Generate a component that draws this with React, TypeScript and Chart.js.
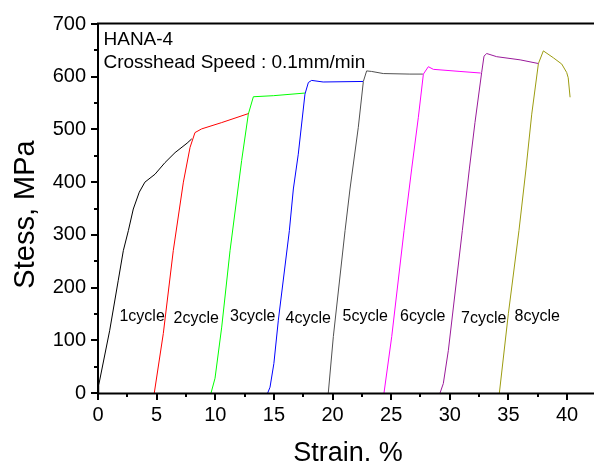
import React, { useEffect, useRef } from 'react';
import { Chart, registerables } from 'chart.js';

Chart.register(...registerables);

const FONT = '"Liberation Sans", Arial, Helvetica, sans-serif';

// ---- data (strain %, stress MPa) ----
const cycleNames = ['1cycle', '2cycle', '3cycle', '4cycle', '5cycle', '6cycle', '7cycle', '8cycle'];
const cycleColors = ['#000000', '#ff0000', '#00ff00', '#0000ff', '#505050', '#ff00ff', '#9a1a9a', '#9c9c10'];

const c1Strain = [0, 0.06, 1.0, 1.73, 2.16, 2.59, 3.01, 3.52, 4.0, 4.86, 5.71, 6.57, 7.6, 7.99];
const c1Stress = [0, 15, 119, 214, 270, 308, 349, 381, 400, 415, 437, 456, 474, 482];
const c2Strain = [4.8, 5.57, 6.42, 7.28, 7.85, 8.27, 8.84, 10.55, 12.82];
const c2Stress = [0, 113, 270, 400, 466, 494, 501, 513, 530];
const c3Strain = [9.64, 9.98, 10.55, 11.26, 12.25, 12.82, 13.25, 14.95, 17.65];
const c3Stress = [0, 28, 125, 270, 441, 529, 562, 564, 569];
const c4Strain = [14.47, 14.67, 15.0, 15.38, 16.32, 16.66, 17.08, 17.65, 17.94, 18.22, 19.2, 22.6];
const c4Stress = [0, 11, 56, 138, 308, 387, 453, 567, 589, 593, 590, 591];
const c5Strain = [19.64, 20.07, 21.07, 21.49, 22.2, 22.63, 22.91, 23.34, 24.33, 26.6, 27.7];
const c5Stress = [0, 107, 308, 387, 504, 591, 611, 610, 606, 605, 605];
const c6Strain = [24.39, 25.05, 26.1, 26.75, 27.32, 27.75, 28.17, 28.6, 30.87, 32.64];
const c6Stress = [0, 107, 308, 425, 523, 605, 619, 614, 610, 607];
const c7Strain = [29.17, 29.45, 29.88, 31.07, 31.67, 32.15, 32.72, 32.92, 33.15, 34.0, 36.0, 37.56];
const c7Stress = [0, 18, 81, 308, 425, 513, 608, 639, 644, 638, 632, 625];
const c8Strain = [34.23, 35.0, 35.9, 36.5, 36.99, 37.56, 37.98, 38.83, 39.55, 39.97, 40.1, 40.26];
const c8Stress = [0, 151, 308, 425, 529, 625, 649, 636, 624, 608, 598, 561];

const strainSeries = [c1Strain, c2Strain, c3Strain, c4Strain, c5Strain, c6Strain, c7Strain, c8Strain];
const stressSeries = [c1Stress, c2Stress, c3Stress, c4Stress, c5Stress, c6Stress, c7Stress, c8Stress];

// cycle label anchors (strain, stress)
const labelStrain = [1.83, 6.44, 11.26, 16.0, 20.85, 25.76, 30.96, 35.52];
const labelStress = [137, 132, 137, 133, 137, 137, 133, 137];

// axes
const strainTicks = [0, 5, 10, 15, 20, 25, 30, 35, 40];
const strainMinorTicks = [2.5, 7.5, 12.5, 17.5, 22.5, 27.5, 32.5, 37.5];
const stressTicks = [0, 100, 200, 300, 400, 500, 600, 700];
const stressMinorTicks = [50, 150, 250, 350, 450, 550, 650];
const strainMin = 0;
const strainMax = 42.3;
const stressMin = 0;
const stressMax = 700;

const xTitle = 'Strain. %';
const yTitle = 'Stess, MPa';
const noteLines = ['HANA-4', 'Crosshead Speed : 0.1mm/min'];

const framePlugin = {
  id: 'frame',
  afterDraw(chart: any) {
    const { ctx, chartArea: a, scales } = chart;
    const xs = scales.x;
    const ys = scales.y;
    ctx.save();
    ctx.strokeStyle = '#000';
    ctx.lineWidth = 2;
    ctx.lineCap = 'butt';
    ctx.beginPath();
    ctx.moveTo(a.left - 1, a.top - 0.5);
    ctx.lineTo(a.right, a.top - 0.5);
    ctx.moveTo(a.left, a.top - 1.5);
    ctx.lineTo(a.left, a.bottom + 1);
    ctx.moveTo(a.left - 1, a.bottom + 0.5);
    ctx.lineTo(a.right, a.bottom + 0.5);
    ctx.stroke();

    ctx.beginPath();
    strainTicks.forEach((v) => {
      const px = Math.round(xs.getPixelForValue(v));
      ctx.moveTo(px, a.bottom);
      ctx.lineTo(px, a.bottom + 7);
    });
    strainMinorTicks.forEach((v) => {
      const px = Math.round(xs.getPixelForValue(v));
      ctx.moveTo(px, a.bottom);
      ctx.lineTo(px, a.bottom + 4);
    });
    stressTicks.forEach((v) => {
      const py = Math.round(ys.getPixelForValue(v));
      ctx.moveTo(a.left, py);
      ctx.lineTo(a.left - 7, py);
    });
    stressMinorTicks.forEach((v) => {
      const py = Math.round(ys.getPixelForValue(v));
      ctx.moveTo(a.left, py);
      ctx.lineTo(a.left - 4, py);
    });
    ctx.stroke();

    ctx.fillStyle = '#000';
    // cycle labels
    ctx.font = `16px ${FONT}`;
    ctx.textAlign = 'left';
    ctx.textBaseline = 'alphabetic';
    cycleNames.forEach((name, i) => {
      ctx.fillText(name, xs.getPixelForValue(labelStrain[i]), ys.getPixelForValue(labelStress[i]));
    });

    // note text
    ctx.font = `19px ${FONT}`;
    noteLines.forEach((t, i) => {
      ctx.fillText(t, a.left + 5.5, a.top + 20.5 + i * 23.4);
    });

    // axis titles
    ctx.textAlign = 'center';
    ctx.font = `27px ${FONT}`;
    ctx.fillText(xTitle, (a.left + a.right) / 2 + 2, chart.height - 1.5);

    ctx.save();
    ctx.translate(33.5, (a.top + a.bottom) / 2 + 6);
    ctx.rotate(-Math.PI / 2);
    ctx.font = `29px ${FONT}`;
    ctx.fillText(yTitle, 0, 0);
    ctx.restore();

    ctx.restore();
  },
};

export default function App() {
  const ref = useRef<HTMLCanvasElement | null>(null);

  useEffect(() => {
    if (!ref.current) return;
    const datasets = cycleNames.map((name, i) => ({
      label: name,
      data: strainSeries[i].map((x, j) => ({ x, y: stressSeries[i][j] })),
      borderColor: cycleColors[i],
      backgroundColor: cycleColors[i],
      borderWidth: 1,
      showLine: true,
      pointRadius: 0,
      pointHoverRadius: 0,
      tension: 0,
      fill: false,
    }));

    const chart = new Chart(ref.current, {
      type: 'scatter',
      data: { datasets },
      options: {
        responsive: false,
        animation: false,
        events: [],
        layout: { padding: { top: 23, left: 0, right: 0, bottom: 0 } },
        plugins: {
          legend: { display: false },
          tooltip: { enabled: false },
          title: { display: false },
        },
        scales: {
          x: {
            type: 'linear',
            min: strainMin,
            max: strainMax,
            grid: { display: false, drawTicks: false },
            border: { display: false },
            afterBuildTicks: (s: any) => {
              s.ticks = strainTicks.map((v) => ({ value: v }));
            },
            afterFit: (s: any) => {
              s.height = 69;
            },
            ticks: {
              font: { family: FONT, size: 20 },
              color: '#000',
              padding: 10,
              maxRotation: 0,
              autoSkip: false,
            },
          },
          y: {
            type: 'linear',
            min: stressMin,
            max: stressMax,
            grid: { display: false, drawTicks: false },
            border: { display: false },
            afterBuildTicks: (s: any) => {
              s.ticks = stressTicks.map((v) => ({ value: v }));
            },
            afterFit: (s: any) => {
              s.width = 98;
            },
            ticks: {
              font: { family: FONT, size: 20 },
              color: '#000',
              padding: 12,
              autoSkip: false,
            },
          },
        },
      },
      plugins: [framePlugin],
    });
    return () => chart.destroy();
  }, []);

  return (
    <div style={{ position: 'absolute', left: 0, top: 0, width: 594, height: 462, background: '#fff' }}>
      <canvas ref={ref} width={594} height={462} style={{ display: 'block' }} />
    </div>
  );
}
